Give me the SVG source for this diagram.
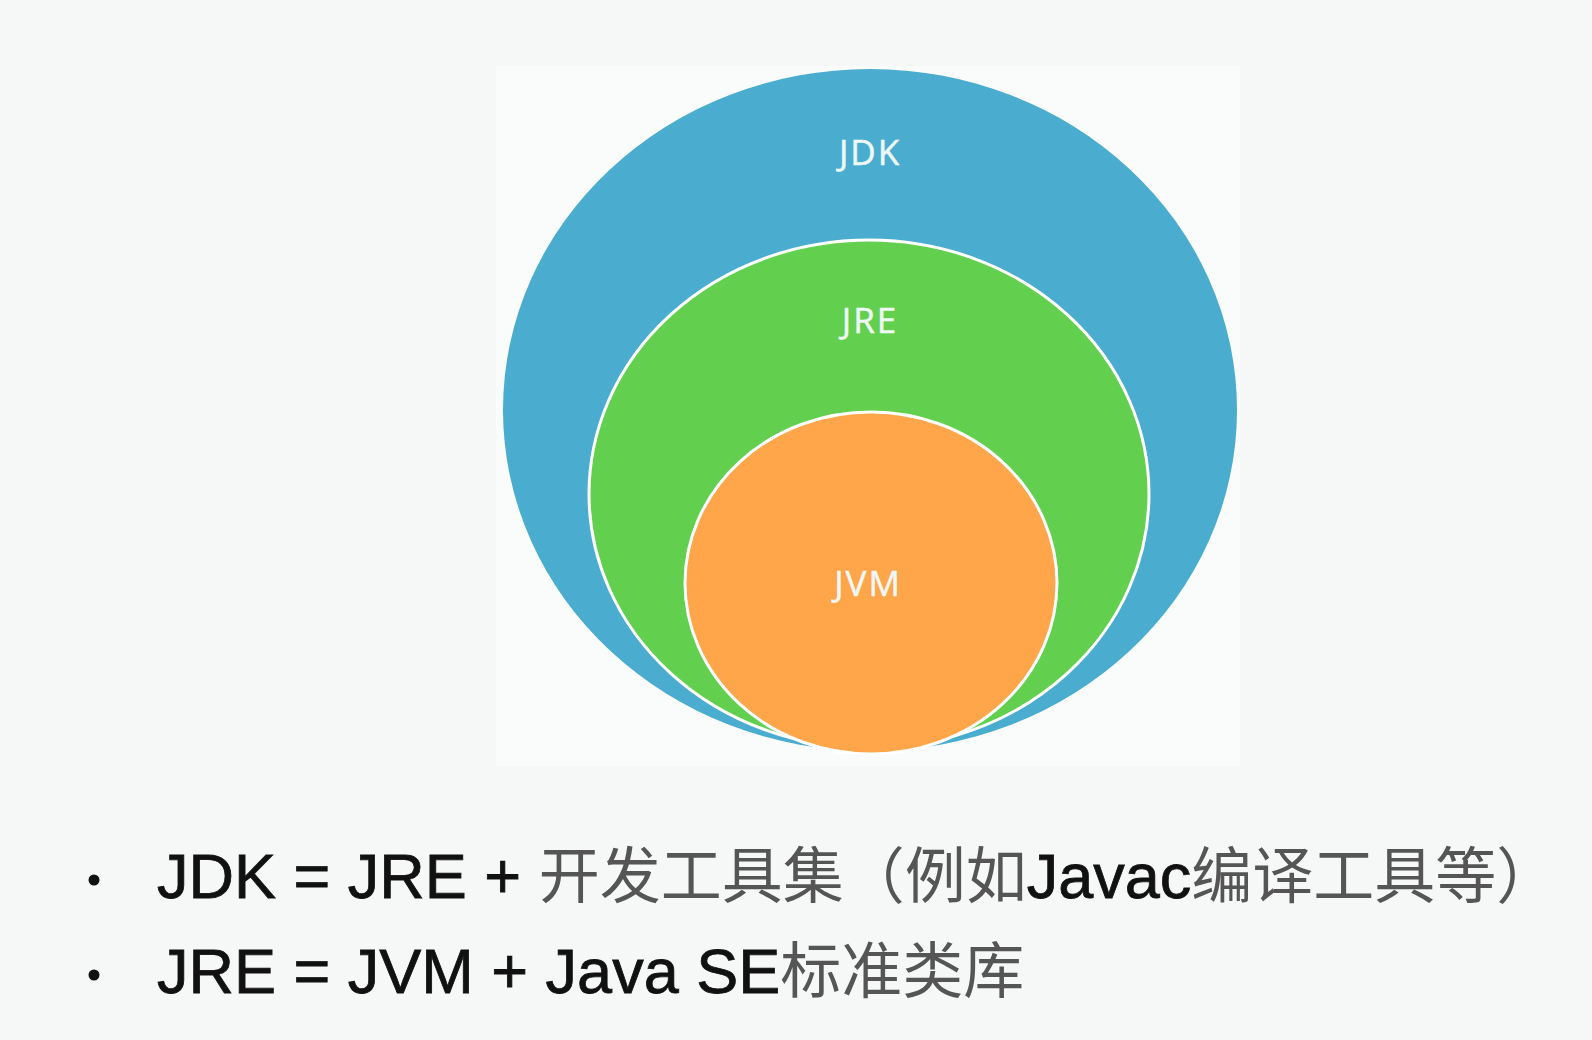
<svg xmlns="http://www.w3.org/2000/svg" width="1592" height="1040" viewBox="0 0 1592 1040">
<style>
.lbl{font-family:"Open Sans","Noto Sans",sans-serif;font-size:35px;letter-spacing:2px;fill:#eef8f4;stroke:#eef8f4;stroke-width:0.5;text-anchor:middle}
.txt{font-family:"Liberation Sans","Noto Sans CJK SC",sans-serif;font-size:63px;fill:#111;stroke:#111;stroke-width:0.8}
.cjk{fill:#555;stroke:none;font-size:61px}
</style>
<rect width="1592" height="1040" fill="#f6f8f8"/>
<rect x="496" y="66" width="744" height="700" fill="#fafcfc"/>
<g id="jdk">
<ellipse cx="870" cy="410" rx="367" ry="341" fill="#4aacce"/>
<text class="lbl" x="870" y="165">JDK</text>
</g>
<g id="jre">
<ellipse cx="869" cy="494" rx="280" ry="254" fill="#62d04e" stroke="#ffffff" stroke-width="3"/>
<text class="lbl" x="870" y="333">JRE</text>
</g>
<g id="jvm">
<ellipse cx="871" cy="583" rx="186" ry="171" fill="#ffa54a" stroke="#ffffff" stroke-width="3"/>
<text class="lbl" x="868" y="596">JVM</text>
</g>
<g id="connectors"></g>
<g id="bullets">
<circle cx="94" cy="880" r="5.5" fill="#111"/>
<circle cx="94" cy="975" r="5.5" fill="#111"/>
<text class="txt" x="157" y="898">JDK = JRE + <tspan class="cjk">开发工具集（例如</tspan>Javac<tspan class="cjk">编译工具等）</tspan></text>
<text class="txt" x="157" y="993">JRE = JVM + Java SE<tspan class="cjk">标准类库</tspan></text>
</g>
</svg>
